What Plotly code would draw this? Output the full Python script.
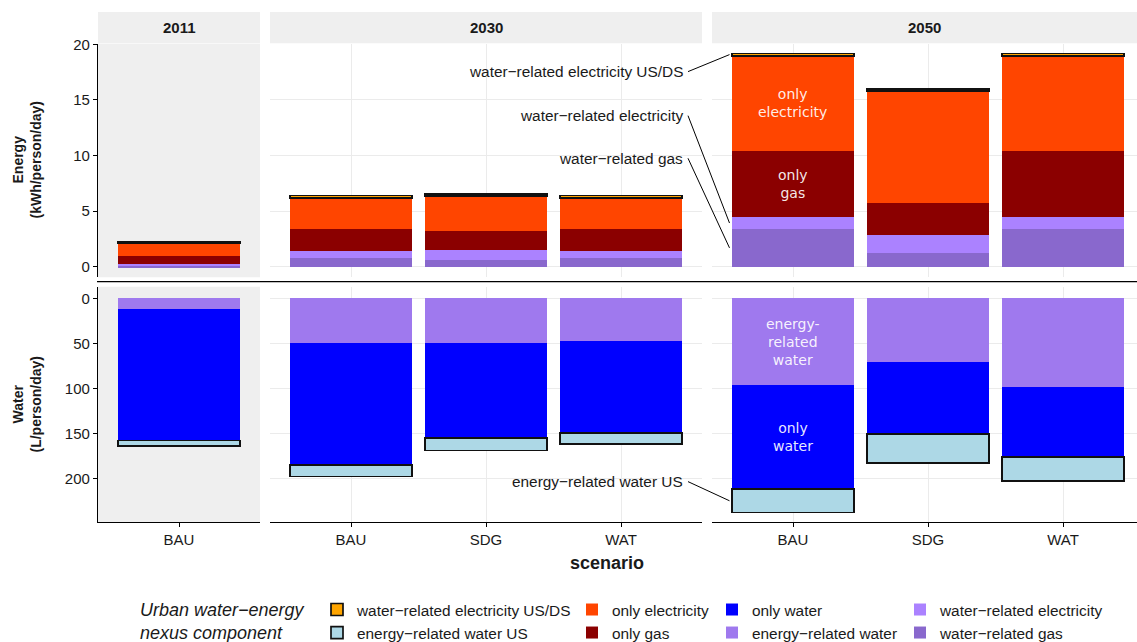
import plotly.graph_objects as go

W, H = 1137, 642

# ---- data -------------------------------------------------------------
periods = ["2011", "2030", "2050"]
scenarios = {"2011": ["BAU"], "2030": ["BAU", "SDG", "WAT"], "2050": ["BAU", "SDG", "WAT"]}

# energy (kWh/person/day), stacked from the bottom up
wr_gas = {"2011": [0.10], "2030": [0.81, 0.60, 0.81], "2050": [3.39, 1.23, 3.39]}
wr_elec = {"2011": [0.14], "2030": [0.63, 0.90, 0.63], "2050": [1.08, 1.62, 1.08]}
only_gas = {"2011": [0.72], "2030": [1.95, 1.71, 1.95], "2050": [5.96, 2.88, 5.96]}
only_elec = {"2011": [1.14], "2030": [2.81, 3.15, 2.81], "2050": [8.54, 10.07, 8.54]}
wr_elec_usds = {"2011": [0.15], "2030": [0.20, 0.18, 0.20], "2050": [0.20, 0.20, 0.20]}

# water (L/person/day), stacked downward from zero
er_water = {"2011": [12], "2030": [50, 50, 47], "2050": [96, 71, 98]}
only_water = {"2011": [146], "2030": [135, 105, 103], "2050": [116, 80, 78]}
er_water_us = {"2011": [6], "2030": [13, 14, 12], "2050": [26, 32, 27]}

energy_ticks = [0, 5, 10, 15, 20]
water_ticks = [0, 50, 100, 150, 200]

# (name, values, colour, legend, rank, outlined)
energy_parts = [
    ("water−related gas", wr_gas, "#8968CD", "legend4", 2, False),
    ("water−related electricity", wr_elec, "#AB82FF", "legend4", 1, False),
    ("only gas", only_gas, "#8B0000", "legend2", 2, False),
    ("only electricity", only_elec, "#FF4500", "legend2", 1, False),
    ("water−related electricity US/DS", wr_elec_usds, "#FFA500", "legend", 1, True),
]
water_parts = [
    ("energy−related water", er_water, "#9F79EE", "legend3", 2, False),
    ("only water", only_water, "#0000FF", "legend3", 1, False),
    ("energy−related water US", er_water_us, "#ADD8E6", "legend", 2, True),
]

TEXT = "#1a1a1a"
FONT = "Liberation Sans"


def px(x):
    return x / W


def py(y):
    return 1 - y / H


fig = go.Figure()

for c, p in enumerate(periods, start=1):
    for row, parts in ((0, energy_parts), (1, water_parts)):
        ax = c + 3 * row
        for name, vals, col, leg, rank, outlined in parts:
            fig.add_trace(go.Bar(
                x=scenarios[p], y=vals[p], name=name,
                xaxis=f"x{ax}", yaxis=f"y{ax}",
                width=0.9,
                marker=dict(color=col,
                            line=dict(color="#111111", width=1.7 if outlined else 0)),
                legend=leg, legendrank=rank, legendgroup=name,
                showlegend=(c == 1),
                hoverinfo="skip",
            ))

# ---- axes ---------------------------------------------------------------
x_dom = [(px(98), px(260)), (px(270), px(702)), (px(712), 1.0)]
x_rng = [[-0.6, 0.6], [-0.6, 2.6], [-0.6, -0.6 + 425 / 135]]
y_dom = [(py(277.3), py(43.7)), (py(522.3), py(286.7))]
y_rng = [[-0.95, 20.05], [248.9, -12.89]]
y_tv = [energy_ticks, water_ticks]

layout = {}
for row in range(2):
    for c in range(3):
        ax = c + 1 + 3 * row
        key = "" if ax == 1 else str(ax)
        first = c == 0
        bottom = row == 1
        layout[f"xaxis{key}"] = dict(
            domain=x_dom[c], range=x_rng[c], type="category",
            categoryorder="array", categoryarray=scenarios[periods[c]],
            anchor=f"y{ax}", showgrid=not first, gridcolor="#ebebeb", gridwidth=1,
            zeroline=False,
            showline=bottom, linecolor="black", linewidth=1.2,
            ticks="outside" if bottom else "", ticklen=4, tickcolor="black",
            showticklabels=bottom,
            tickfont=dict(family=FONT, size=15, color=TEXT),
            fixedrange=True,
        )
        layout[f"yaxis{key}"] = dict(
            domain=y_dom[row], range=y_rng[row], anchor=f"x{ax}",
            tickvals=y_tv[row], showgrid=not first, gridcolor="#ebebeb", gridwidth=1,
            zeroline=False,
            showline=first, linecolor="black", linewidth=1.2,
            ticks="outside" if first else "", ticklen=4, tickcolor="black",
            showticklabels=first,
            tickfont=dict(family=FONT, size=15, color=TEXT),
            fixedrange=True,
        )

shapes = []
annotations = []


def note(**kw):
    kw.setdefault("xanchor", "center")
    kw.setdefault("yanchor", "middle")
    kw.setdefault("showarrow", False)
    annotations.append(kw)


# highlighted 2011 panels
for ax in ("", "4"):
    shapes.append(dict(type="rect", xref=f"x{ax} domain", yref=f"y{ax} domain",
                       x0=0, x1=1, y0=0, y1=1, fillcolor="#efefef",
                       line=dict(width=0), layer="below"))

# facet strips
for c, p in enumerate(periods, start=1):
    ax = "" if c == 1 else str(c)
    shapes.append(dict(type="rect", xref=f"x{ax} domain", yref="paper",
                       x0=0, x1=1, y0=py(43.3), y1=py(12), fillcolor="#efefef",
                       line=dict(width=0), layer="below"))
    note(text=f"<b>{p}</b>", xref=f"x{ax} domain", yref="paper",
         x=0.5, y=py(27.5), font=dict(family=FONT, size=15, color=TEXT))

# separator between the two rows
shapes.append(dict(type="line", xref="paper", yref="paper",
                   x0=px(97), x1=1, y0=py(281.7), y1=py(281.7),
                   line=dict(color="black", width=1.2)))

# row titles and x title
note(text="<b>Energy<br>(kWh/person/day)</b>", textangle=-90,
     xref="paper", yref="paper", x=px(26), y=py(160.5),
     font=dict(family=FONT, size=14, color=TEXT))
note(text="<b>Water<br>(L/person/day)</b>", textangle=-90,
     xref="paper", yref="paper", x=px(26), y=py(404.5),
     font=dict(family=FONT, size=14, color=TEXT))
note(text="<b>scenario</b>", xref="paper", yref="paper",
     x=px(607), y=py(563), font=dict(family=FONT, size=18, color=TEXT))

# labels inside the 2050 BAU bars, at the middle of each segment
i = 0
lab_font = dict(family="DejaVu Sans", size=14, color="rgba(255,255,255,0.92)")
e_cum = 0.0
e_mid = {}
for name, vals, *_ in energy_parts:
    v = vals["2050"][i]
    e_mid[name] = e_cum + v / 2
    e_cum += v
w_cum = 0.0
w_mid = {}
for name, vals, *_ in water_parts:
    v = vals["2050"][i]
    w_mid[name] = w_cum + v / 2
    w_cum += v

for txt, key in [("only<br>electricity", "only electricity"), ("only<br>gas", "only gas")]:
    note(text=txt, x="BAU", y=e_mid[key], xref="x3", yref="y3", font=lab_font)
for txt, key in [("energy-<br>related<br>water", "energy−related water"),
                 ("only<br>water", "only water")]:
    note(text=txt, x="BAU", y=w_mid[key], xref="x6", yref="y6", font=lab_font)

# callouts with leader lines to the 2050 BAU bars
top_2050 = e_cum - wr_elec_usds["2050"][0] / 2
callouts = [
    ("water−related electricity US/DS", "y3", 17.54, top_2050),
    ("water−related electricity", "y3", 13.58, e_mid["water−related electricity"]),
    ("water−related gas", "y3", 9.75, e_mid["water−related gas"]),
    ("energy−related water US", "y6", 203.7, w_mid["energy−related water US"]),
]
for txt, yref, ytxt, ytarget in callouts:
    note(text=txt, xref="paper", yref=yref, x=px(685), y=ytxt, xanchor="right",
         font=dict(family=FONT, size=15.4, color=TEXT))
    shapes.append(dict(type="line", xref="paper", yref=yref,
                       x0=px(688), y0=ytxt, x1=px(729.5), y1=ytarget,
                       line=dict(color="black", width=1)))

# legend title
note(text="<i>Urban water−energy<br>nexus component</i>",
     xref="paper", yref="paper", x=px(138), y=py(621.5),
     xanchor="left", align="left", font=dict(family=FONT, size=18, color=TEXT))

leg_common = dict(orientation="v", xanchor="left", yanchor="top",
                  bgcolor="rgba(0,0,0,0)", traceorder="normal", tracegroupgap=0,
                  font=dict(family=FONT, size=15.4, color=TEXT))
legend_x = {"legend": 317, "legend2": 572, "legend3": 712, "legend4": 900}
for k, xv in legend_x.items():
    layout[k] = dict(leg_common, x=px(xv), y=py(593))

fig.update_layout(
    **layout,
    barmode="stack",
    bargap=0.1,
    width=W, height=H,
    margin=dict(l=0, r=0, t=0, b=0, autoexpand=False),
    paper_bgcolor="white", plot_bgcolor="white",
    shapes=shapes, annotations=annotations,
    font=dict(family=FONT, color=TEXT),
)

fig.write_html("out.html")
